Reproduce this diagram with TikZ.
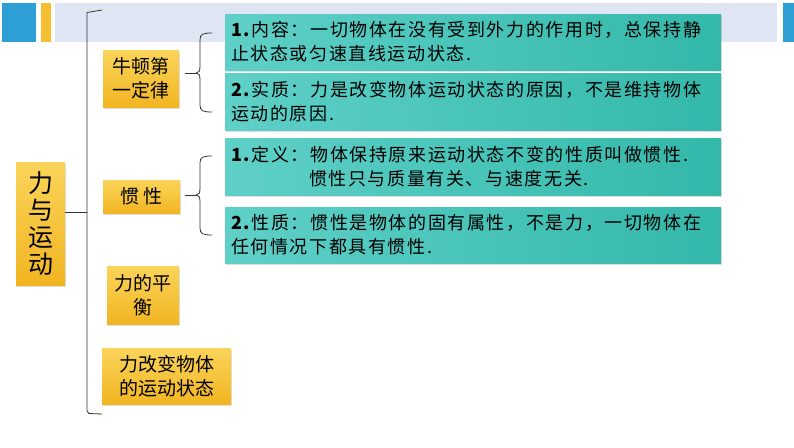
\documentclass[tikz,border=0pt]{standalone}
\usepackage{fontspec}
\setmainfont{Noto Sans CJK SC}
\usetikzlibrary{shadows}

\definecolor{bandgray}{HTML}{DFE5F2}
\definecolor{bandblue}{HTML}{2E9FD4}
\definecolor{bandyellow}{HTML}{F5BE30}
\definecolor{yellowlight}{HTML}{FAD45A}
\definecolor{yellowdark}{HTML}{F2B522}
\definecolor{teallight}{HTML}{5FD0C7}
\definecolor{tealdark}{HTML}{33B8AA}

\tikzset{
  yellowbox/.style={shading=axis, top color=yellowlight, bottom color=yellowdark,
    drop shadow={shadow xshift=1pt, shadow yshift=-1.5pt, opacity=0.25},
    align=center, inner sep=0pt, font=\fontsize{19}{24}\selectfont},
  tealbox/.style={shading=axis, left color=teallight, right color=tealdark,
    drop shadow={shadow xshift=1pt, shadow yshift=-1.5pt, opacity=0.25},
    minimum width=496pt, text width=484pt, align=left, inner sep=6pt,
    font=\fontsize{18}{24}\selectfont\addfontfeature{LetterSpace=9}},
  bracket/.style={draw=black!80, line width=0.8pt, line cap=round, line join=round}
}

\begin{document}
\begin{tikzpicture}[x=1pt, y=-1pt]
  \useasboundingbox (0,0) rectangle (794,447);
  \fill[white] (0,0) rectangle (794,447);

  % Header band
  \fill[bandgray] (55,3) rectangle (777,42);
  \fill[bandblue] (2,3) rectangle (36,42);
  \fill[bandyellow] (41,3) rectangle (51,42);
  \fill[bandblue] (783,3) rectangle (794,42);

  % Main topic and sub topics
  \node[yellowbox, minimum width=49pt, minimum height=123pt,
        font=\fontsize{25}{27}\selectfont] (root) at (40.5,223.5) {力\\与\\运\\动};
  \node[yellowbox, minimum width=76pt, minimum height=57pt] (newton) at (141,78.5) {牛顿第\\一定律};
  \node[yellowbox, minimum width=77pt, minimum height=33pt,
        font=\fontsize{19}{24}\selectfont\addfontfeature{LetterSpace=25}] (inertia) at (141.5,196.5) {惯性};
  \node[yellowbox, minimum width=72pt, minimum height=58pt] (balance) at (143,295) {力的平\\衡};
  \node[yellowbox, minimum width=129pt, minimum height=56pt] (change) at (166.5,376) {力改变物体\\的运动状态};

  % Details
  \node[tealbox, minimum height=56pt] (content) at (473,42)
    {\textbf{1.}内容：一切物体在没有受到外力的作用时，总保持静\\止状态或匀速直线运动状态.};
  \node[tealbox, minimum height=57pt] (essence) at (473,101.5)
    {\textbf{2.}实质：力是改变物体运动状态的原因，不是维持物体\\运动的原因.};
  \node[tealbox, minimum height=57pt] (define) at (473,166.5)
    {\textbf{1.}定义：物体保持原来运动状态不变的性质叫做惯性.\\\hspace*{78pt}惯性只与质量有关、与速度无关.};
  \node[tealbox, minimum height=56pt] (nature) at (473,235)
    {\textbf{2.}性质：惯性是物体的固有属性，不是力，一切物体在\\任何情况下都具有惯性.};

  % Main bracket
  \coordinate (mm) at (87,212);
  \draw[bracket] (102,10) -- (87,12.5) -- (87,411) -- (89,413.5) -- (102,414);
  \draw[bracket] (root.east |- mm) -- (mm);

  % Brace for the first law
  \coordinate (nb) at (196,73);
  \draw[bracket] (212,33) .. controls (203,33) and (200,34) .. (200,40) -- (200,66)
    .. controls (200,71) and (199,73) .. (nb) .. controls (199,73) and (200,75) .. (200,80)
    -- (200,105) .. controls (200,111) and (203,112) .. (212,112);
  \draw[bracket] ([xshift=6pt]newton.east |- nb) -- (nb);

  % Brace for inertia
  \coordinate (ib) at (196,195);
  \draw[bracket] (212,156) .. controls (203,156) and (200,157) .. (200,163) -- (200,188)
    .. controls (200,193) and (199,195) .. (ib) .. controls (199,195) and (200,197) .. (200,202)
    -- (200,228) .. controls (200,234) and (203,235) .. (212,235);
  \draw[bracket] ([xshift=5pt]inertia.east |- ib) -- (ib);
\end{tikzpicture}
\end{document}
